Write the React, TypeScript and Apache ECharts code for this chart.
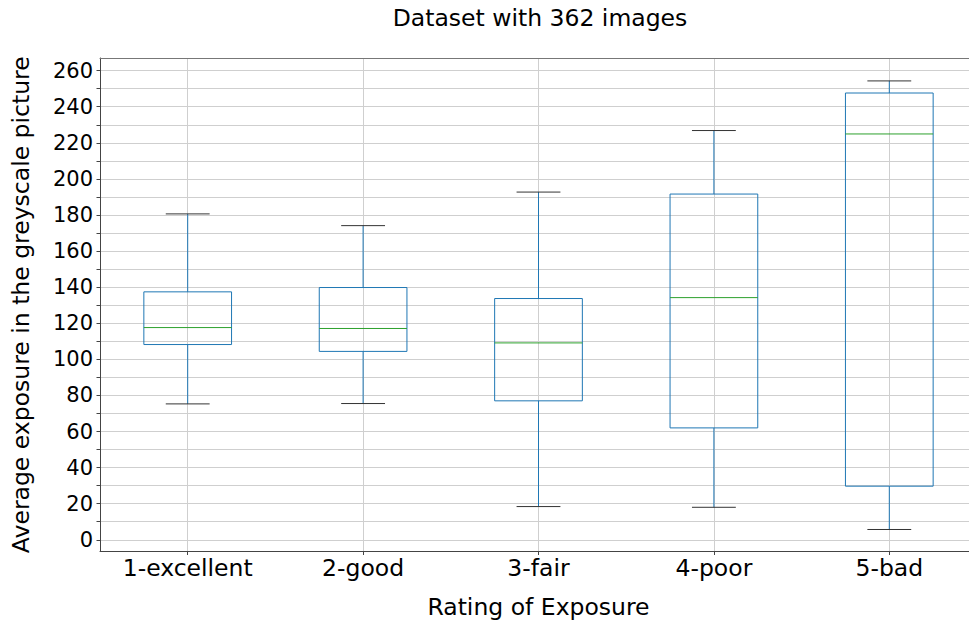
import React, { useEffect, useRef } from "react";
import * as echarts from "echarts";

const categories = ["1-excellent", "2-good", "3-fair", "4-poor", "5-bad"];
const positions = [1, 2, 3, 4, 5];
const whiskerLow = [75.3, 75.5, 18.4, 18.0, 5.7];
const q1 = [108.2, 104.4, 77.0, 62.0, 29.7];
const median = [117.6, 117.1, 109.1, 134.2, 224.9];
const q3 = [137.4, 139.8, 133.7, 191.6, 247.6];
const whiskerHigh = [180.6, 174.1, 192.7, 226.8, 254.3];
const yLabelValues = [0, 20, 40, 60, 80, 100, 120, 140, 160, 180, 200, 220, 240, 260];
const yTickValues = [
  0, 10, 20, 30, 40, 50, 60, 70, 80, 90, 100, 110, 120, 130, 140, 150, 160, 170, 180, 190,
  200, 210, 220, 230, 240, 250, 260,
];

const FONT = "DejaVu Sans";

export default function App() {
  const ref = useRef<HTMLDivElement>(null);
  useEffect(() => {
    if (!ref.current) return;
    const chart = echarts.init(ref.current, null, { renderer: "svg" });
    const data = positions.map((p, i) => [p, whiskerLow[i], q1[i], median[i], q3[i], whiskerHigh[i]]);
    chart.setOption({
      animation: false,
      backgroundColor: "#ffffff",
      title: {
        text: "Dataset with 362 images",
        left: 535,
        top: 1,
        textAlign: "center",
        textStyle: { fontFamily: FONT, fontSize: 23.5, fontWeight: "normal", color: "#000" },
      },
      grid: {
        left: 100,
        top: 58,
        width: 877,
        height: 493.5,
        outerBoundsMode: "none",
        containLabel: false,
        show: false,
      },
      xAxis: [
        {
          type: "value",
          min: 0.5,
          max: 5.5,
          name: "Rating of Exposure",
          nameLocation: "middle",
          nameGap: 43,
          nameTextStyle: { fontFamily: FONT, fontSize: 23.5, color: "#000", verticalAlign: "top" },
          axisLine: { show: true, onZero: false, lineStyle: { color: "#444", width: 1 } },
          axisTick: { show: true, length: 3.5, customValues: positions, lineStyle: { color: "#444" } },
          axisLabel: {
            customValues: positions,
            margin: 4,
            fontFamily: FONT,
            fontSize: 23.5,
            color: "#000",
            formatter: (v: number) => categories[Math.round(v) - 1] ?? "",
          },
          splitLine: { show: true, lineStyle: { color: "#cfcfcf", width: 1 } },
        },
        {
          type: "value",
          position: "top",
          min: 0.5,
          max: 5.5,
          axisLine: { show: true, onZero: false, lineStyle: { color: "#777", width: 1 } },
          axisTick: { show: false },
          axisLabel: { show: false },
          splitLine: { show: false },
        },
      ],
      yAxis: {
        type: "value",
        min: -6.5,
        max: 267,
        name: "Average exposure in the greyscale picture",
        nameLocation: "middle",
        nameGap: 67,
        nameRotate: 90,
        nameTextStyle: { fontFamily: FONT, fontSize: 23.5, color: "#000" },
        axisLine: { show: true, onZero: false, lineStyle: { color: "#444", width: 1 } },
        axisTick: { show: true, length: 3.5, customValues: yTickValues, lineStyle: { color: "#444" } },
        axisLabel: {
          customValues: yLabelValues,
          margin: 7,
          fontFamily: FONT,
          fontSize: 21,
          color: "#000",
        },
        splitLine: { show: true, lineStyle: { color: "#cfcfcf", width: 1 } },
      },
      series: [
        {
          type: "custom",
          data,
          xAxisIndex: 0,
          encode: { x: 0, y: [1, 2, 3, 4, 5] },
          clip: false,
          renderItem: (params: any, api: any) => {
            const x = api.value(0);
            const pLow = api.coord([x, api.value(1)]);
            const pQ1 = api.coord([x, api.value(2)]);
            const pMed = api.coord([x, api.value(3)]);
            const pQ3 = api.coord([x, api.value(4)]);
            const pHigh = api.coord([x, api.value(5)]);
            const band = api.size([1, 0])[0];
            const boxW = band * 0.5;
            const capW = band * 0.25;
            const cx = pMed[0];
            const blue = "#1f77b4";
            return {
              type: "group",
              children: [
                {
                  type: "line",
                  shape: { x1: cx, y1: pQ1[1], x2: cx, y2: pLow[1] },
                  style: { stroke: blue, lineWidth: 1 },
                },
                {
                  type: "line",
                  shape: { x1: cx, y1: pQ3[1], x2: cx, y2: pHigh[1] },
                  style: { stroke: blue, lineWidth: 1 },
                },
                {
                  type: "line",
                  shape: { x1: cx - capW / 2, y1: pLow[1], x2: cx + capW / 2, y2: pLow[1] },
                  style: { stroke: "#333", lineWidth: 1 },
                },
                {
                  type: "line",
                  shape: { x1: cx - capW / 2, y1: pHigh[1], x2: cx + capW / 2, y2: pHigh[1] },
                  style: { stroke: "#333", lineWidth: 1 },
                },
                {
                  type: "rect",
                  shape: { x: cx - boxW / 2, y: pQ3[1], width: boxW, height: pQ1[1] - pQ3[1] },
                  style: { fill: "none", stroke: blue, lineWidth: 1 },
                },
                {
                  type: "line",
                  shape: { x1: cx - boxW / 2, y1: pMed[1], x2: cx + boxW / 2, y2: pMed[1] },
                  style: { stroke: "#2ca02c", lineWidth: 1 },
                },
              ],
            };
          },
        },
      ],
    });
    return () => chart.dispose();
  }, []);
  return (
    <div
      ref={ref}
      style={{ position: "fixed", left: 0, top: 0, width: 969, height: 624, background: "#fff" }}
    />
  );
}
